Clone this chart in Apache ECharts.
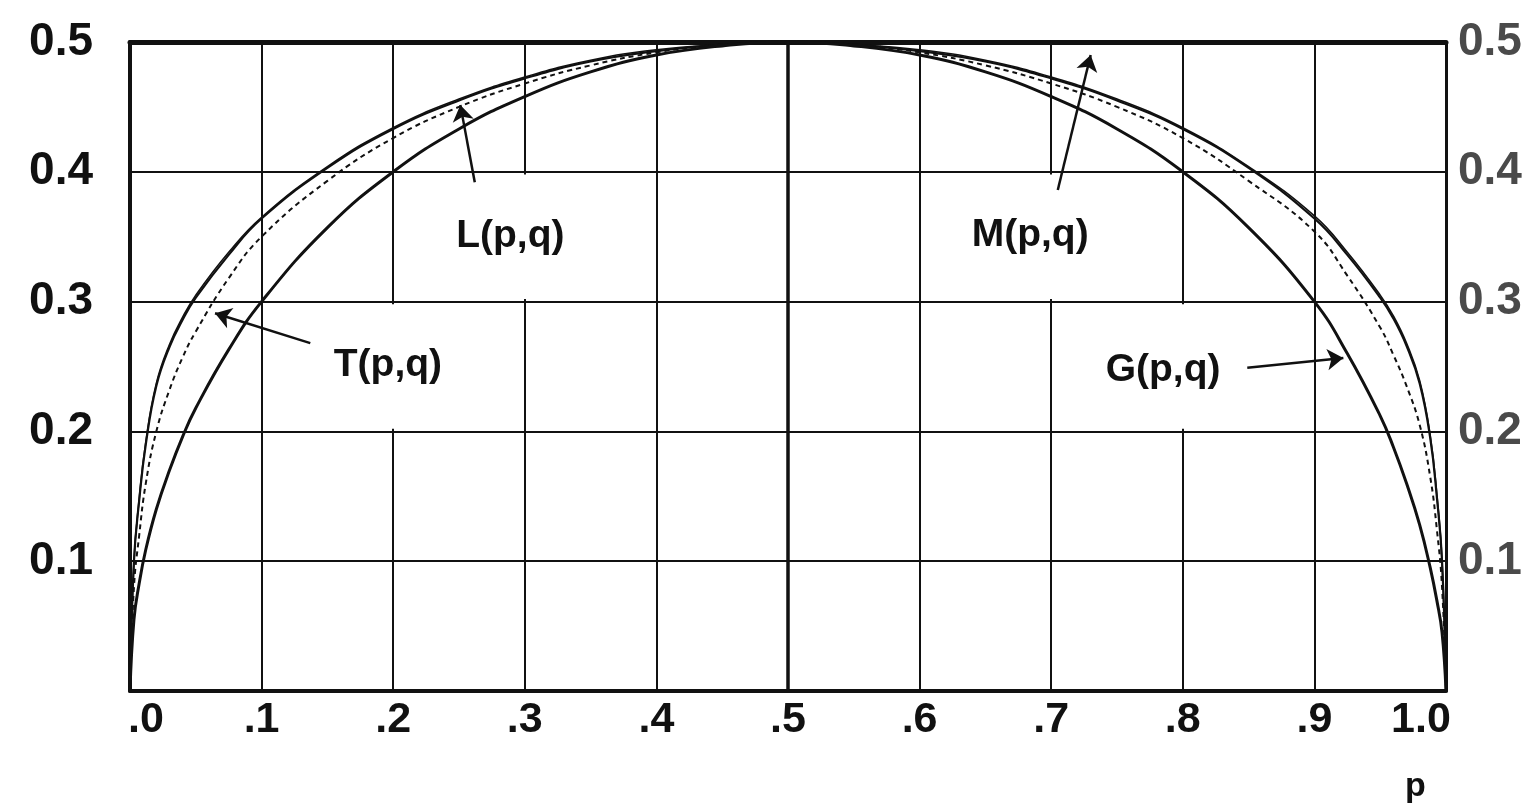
<!DOCTYPE html>
<html>
<head>
<meta charset="utf-8">
<title>L(p,q), M(p,q), T(p,q), G(p,q)</title>
<script src="https://cdn.jsdelivr.net/npm/echarts@6/dist/echarts.min.js"></script>
<style>
    html, body { margin: 0; padding: 0; background: #fff; }
    #chart { width: 1522px; height: 803px; }
</style>
</head>
<body>
<div id="chart"></div>
<script>
// p on the horizontal axis (same samples for every curve)
var pValues = [0, 0.003, 0.007, 0.012, 0.02, 0.03, 0.04, 0.05, 0.075, 0.1, 0.15, 0.2, 0.25, 0.3, 0.35, 0.4, 0.45, 0.5,
    0.55, 0.6, 0.65, 0.7, 0.75, 0.8, 0.85, 0.9, 0.925, 0.95, 0.96, 0.97, 0.98, 0.988, 0.993, 0.997, 1];

// values
var lValues = [0, 0.1, 0.147, 0.19, 0.235, 0.265, 0.286, 0.303, 0.336, 0.364, 0.403, 0.433, 0.455, 0.472, 0.485, 0.493, 0.498, 0.5,
    0.498, 0.493, 0.485, 0.472, 0.455, 0.433, 0.403, 0.364, 0.336, 0.303, 0.287, 0.266, 0.237, 0.195, 0.15, 0.1, 0];
var mValues = [0, 0.1, 0.148, 0.192, 0.237, 0.267, 0.288, 0.305, 0.338, 0.365, 0.404, 0.434, 0.456, 0.473, 0.486, 0.494, 0.498, 0.5,
    0.498, 0.494, 0.486, 0.473, 0.456, 0.434, 0.404, 0.366, 0.338, 0.305, 0.289, 0.268, 0.239, 0.197, 0.152, 0.1, 0];
var tValues = [0, 0.08, 0.12, 0.16, 0.2, 0.232, 0.257, 0.277, 0.318, 0.35, 0.393, 0.426, 0.45, 0.468, 0.482, 0.492, 0.498, 0.5,
    0.498, 0.492, 0.482, 0.468, 0.45, 0.426, 0.393, 0.354, 0.32, 0.28, 0.259, 0.235, 0.205, 0.165, 0.125, 0.08, 0];
var gValues = [0, 0.055, 0.083, 0.109, 0.14, 0.17, 0.196, 0.218, 0.263, 0.3, 0.357, 0.4, 0.433, 0.458, 0.477, 0.49, 0.497, 0.5,
    0.497, 0.49, 0.477, 0.458, 0.433, 0.4, 0.357, 0.3, 0.26, 0.212, 0.188, 0.16, 0.128, 0.095, 0.07, 0.045, 0];

// tick labels
var xTickLabels = ['.0', '.1', '.2', '.3', '.4', '.5', '.6', '.7', '.8', '.9', '1.0'];
var yTickLabels = ['', '0.1', '0.2', '0.3', '0.4', '0.5'];

// curve names, label positions and arrows (tail -> head) in p / value units
var curveNames = ['L(p,q)', 'M(p,q)', 'T(p,q)', 'G(p,q)'];
var labelAt = [[0.289, 0.35], [0.684, 0.351], [0.196, 0.251], [0.785, 0.247]];
var arrows = [
    [[0.262, 0.392], [0.251, 0.4515]],
    [[0.705, 0.386], [0.730, 0.49]],
    [[0.137, 0.268], [0.0646, 0.291]],
    [[0.849, 0.249], [0.922, 0.2565]]
];

var ink = '#111';
var font = "'Liberation Sans', Arial, sans-serif";

function pairs(vals) {
    return pValues.map(function (p, i) { return [p, vals[i]]; });
}

// white boxes behind the labels (grid lines erased there), kept just inside the cell edges
var pad = 0.002;
var boxes = [[0.2, 0.3, 0.4, 0.4], [0.6, 0.3, 0.8, 0.4], [0.1, 0.2, 0.3, 0.3], [0.7, 0.2, 0.9, 0.3]];

var myChart = echarts.init(document.getElementById('chart'));

var option = {
    animation: false,
    backgroundColor: '#fff',
    grid: { left: 130, right: 76, top: 42, bottom: 112, outerBoundsMode: 'none' },
    xAxis: [{
        type: 'value', min: 0, max: 1, interval: 0.1, position: 'bottom',
        axisLine: { show: true, onZero: false, lineStyle: { color: ink, width: 4 } },
        axisTick: { show: false },
        splitLine: { show: true, lineStyle: { color: ink, width: 2 } },
        axisLabel: {
            margin: 8, showMinLabel: true, showMaxLabel: true,
            color: ink, fontFamily: font, fontWeight: 'bold', fontSize: 43,
            formatter: function (v) {
                var i = Math.round(v * 10);
                if (i === 0) return '{first|' + xTickLabels[i] + '}';
                if (i === 10) return '{last|' + xTickLabels[i] + '}';
                return xTickLabels[i];
            },
            rich: {
                first: { padding: [0, 0, 0, 32], color: ink, fontFamily: font, fontWeight: 'bold', fontSize: 43 },
                last: { padding: [0, 50, 0, 0], color: ink, fontFamily: font, fontWeight: 'bold', fontSize: 43 }
            }
        }
    }, {
        type: 'value', min: 0, max: 1, position: 'top',
        axisLine: { show: true, onZero: false, lineStyle: { color: ink, width: 5 } },
        axisTick: { show: false }, axisLabel: { show: false }, splitLine: { show: false }
    }],
    yAxis: [{
        type: 'value', min: 0, max: 0.5, interval: 0.1, position: 'left',
        axisLine: { show: true, onZero: false, lineStyle: { color: ink, width: 4 } },
        axisTick: { show: false },
        splitLine: { show: true, lineStyle: { color: ink, width: 2 } },
        axisLabel: {
            margin: 37, color: ink, fontFamily: font, fontWeight: 'bold', fontSize: 46,
            formatter: function (v) { return yTickLabels[Math.round(v * 10)]; }
        }
    }, {
        type: 'value', min: 0, max: 0.5, interval: 0.1, position: 'right',
        axisLine: { show: true, onZero: false, lineStyle: { color: ink, width: 3 } },
        axisTick: { show: false }, splitLine: { show: false },
        axisLabel: {
            margin: 12, color: '#4a4a4a', fontFamily: font, fontWeight: 'bold', fontSize: 46,
            formatter: function (v) { return yTickLabels[Math.round(v * 10)]; }
        }
    }],
    graphic: [{
        type: 'text', left: 1405, top: 770,
        style: { text: 'p', fill: ink, font: 'bold 34px ' + font }
    }],
    series: [{
        // label boxes, the heavy p = .5 line
        type: 'line', data: [], z: 1, silent: true,
        markArea: {
            silent: true,
            itemStyle: { color: '#fff', opacity: 1 },
            data: boxes.map(function (b) {
                return [{ coord: [b[0] + pad, b[1] + pad] }, { coord: [b[2] - pad, b[3] - pad] }];
            })
        },
        markLine: {
            silent: true, symbol: 'none', label: { show: false },
            lineStyle: { color: ink, width: 3.5, type: 'solid' },
            data: [{ xAxis: 0.5 }]
        }
    }, {
        name: curveNames[0], type: 'line', z: 3, data: pairs(lValues), showSymbol: false, smooth: 0.45,
        lineStyle: { color: ink, width: 2.2 }
    }, {
        name: curveNames[1], type: 'line', z: 3, data: pairs(mValues), showSymbol: false, smooth: 0.45,
        lineStyle: { color: ink, width: 1.6 }
    }, {
        name: curveNames[2], type: 'line', z: 3, data: pairs(tValues), showSymbol: false, smooth: 0.45,
        lineStyle: { color: ink, width: 2, type: [5, 4] }
    }, {
        name: curveNames[3], type: 'line', z: 3, data: pairs(gValues), showSymbol: false, smooth: 0.45,
        lineStyle: { color: ink, width: 3 }
    }, {
        // arrows and curve names
        type: 'line', data: [], z: 4, silent: true,
        markLine: {
            silent: true, symbol: ['none', 'arrow'], symbolSize: 16,
            label: { show: false },
            lineStyle: { color: ink, width: 2.5, type: 'solid' },
            data: arrows.map(function (a) { return [{ coord: a[0] }, { coord: a[1] }]; })
        },
        markPoint: {
            silent: true, symbol: 'rect', symbolSize: 1,
            itemStyle: { color: 'rgba(0,0,0,0)' },
            label: {
                show: true, position: 'inside', formatter: '{b}',
                color: ink, fontFamily: font, fontWeight: 'bold', fontSize: 39
            },
            data: curveNames.map(function (n, i) { return { name: n, coord: labelAt[i] }; })
        }
    }]
};

myChart.setOption(option);
window.addEventListener('resize', function () {
    myChart.resize();
});
</script>
</body>
</html>
